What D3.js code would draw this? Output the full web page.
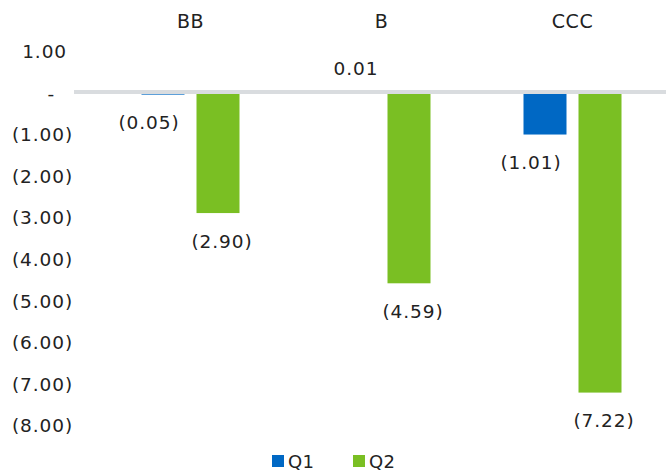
<!DOCTYPE html>
<html>
<head>
<meta charset="utf-8">
<script src="https://cdn.jsdelivr.net/npm/d3@7"></script>
<style>
  body { margin: 0; background: #fff; }
  text { font-family: "DejaVu Sans", sans-serif; fill: #222; }
</style>
</head>
<body>
<svg id="chart" width="666" height="472"></svg>
<script>
// данные графика
var categories = ['BB', 'B', 'CCC'];
var series = ['Q1', 'Q2'];
var q1Values = [-0.05, 0.01, -1.01];
var q2Values = [-2.90, -4.59, -7.22];
var yTicks = [1, 0, -1, -2, -3, -4, -5, -6, -7, -8];
var colors = { Q1: '#0068c4', Q2: '#7abf23' };

var svg = d3.select('#chart'),
    width = 666,
    fontSize = 18.5,
    spacing = 0.9;

var data = categories.map(function (c, i) {
  return { cat: c, values: [{ key: 'Q1', v: q1Values[i] }, { key: 'Q2', v: q2Values[i] }] };
});

var x0 = d3.scaleBand().domain(categories).range([95, 668]);
var x1 = d3.scaleBand().domain(series).range([-49, 49]).paddingInner(12 / 55);
var y = d3.scaleLinear().domain([-8, 1]).range([425, 51]);

// формат подписей как в Excel
function fmt(v) {
  if (Math.abs(v) < 1e-9) return '-';
  var s = d3.format('.2f')(Math.abs(v));
  return v < 0 ? '(' + s + ')' : s;
}

// ось Y
var axis = svg.append('g')
  .attr('transform', 'translate(73,0)')
  .call(d3.axisLeft(y).tickValues(yTicks).tickSize(0).tickPadding(0).tickFormat(fmt));
axis.select('.domain').remove();
axis.selectAll('text')
  .attr('font-size', fontSize)
  .attr('font-family', '"DejaVu Sans", sans-serif')
  .attr('letter-spacing', spacing)
  .attr('fill', '#222')
  .attr('x', function (d) { return d > 0 ? -6 : (d === 0 ? -18 : 0); })
  .attr('dy', '0.36em');

// категории сверху
svg.append('g').selectAll('text')
  .data(categories)
  .enter()
  .append('text')
  .attr('x', function (d) { return x0(d) + x0.bandwidth() / 2; })
  .attr('y', 21)
  .attr('dy', '0.36em')
  .attr('text-anchor', 'middle')
  .attr('font-size', 19)
  .attr('letter-spacing', 0.5)
  .text(function (d) { return d; });

// столбцы
var groups = svg.append('g').selectAll('g')
  .data(data)
  .enter()
  .append('g')
  .attr('transform', function (d) { return 'translate(' + (x0(d.cat) + x0.bandwidth() / 2) + ',0)'; });

groups.selectAll('rect')
  .data(function (d) { return d.values; })
  .enter()
  .append('rect')
  .attr('x', function (d) { return x1(d.key); })
  .attr('width', x1.bandwidth())
  .attr('y', function (d) { return y(Math.max(0, d.v)); })
  .attr('height', function (d) { return Math.abs(y(d.v) - y(0)); })
  .attr('fill', function (d) { return colors[d.key]; });

// подписи значений
groups.selectAll('text')
  .data(function (d) { return d.values; })
  .enter()
  .append('text')
  .attr('x', function (d) {
    var c = x1(d.key) + x1.bandwidth() / 2;
    if (d.key === 'Q1') return c + (d.v < 0 ? -14 : 2);
    return c + 4;
  })
  .attr('y', function (d) { return d.v < 0 ? y(d.v) + 28 : y(d.v) - 24; })
  .attr('dy', '0.36em')
  .attr('text-anchor', 'middle')
  .attr('font-size', fontSize)
  .attr('letter-spacing', spacing)
  .text(function (d) { return fmt(d.v); });

// нулевая линия поверх столбцов
svg.append('line')
  .attr('x1', 74).attr('x2', width)
  .attr('y1', y(0) - 0.5).attr('y2', y(0) - 0.5)
  .attr('stroke', '#d9dcdf')
  .attr('stroke-width', 4);

// легенда
var legend = svg.append('g').selectAll('g')
  .data(series)
  .enter()
  .append('g')
  .attr('transform', function (d, i) { return 'translate(' + (272 + i * 81) + ',455)'; });
legend.append('rect')
  .attr('width', 12).attr('height', 12)
  .attr('fill', function (d) { return colors[d]; });
legend.append('text')
  .attr('x', 16)
  .attr('y', 7)
  .attr('dy', '0.36em')
  .attr('font-size', 18)
  .attr('letter-spacing', 0.3)
  .text(function (d) { return d; });
</script>
</body>
</html>
